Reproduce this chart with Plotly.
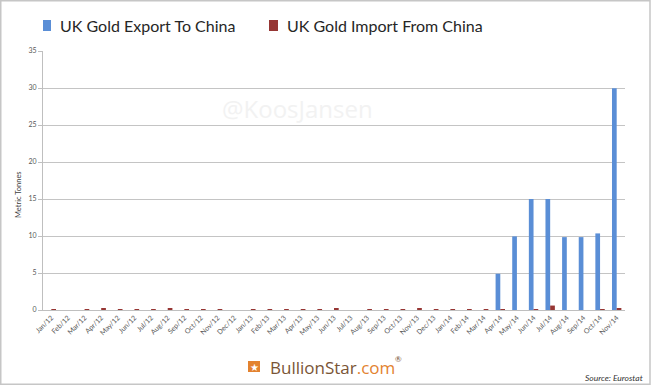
import plotly.graph_objects as go

months = ["Jan/12", "Feb/12", "Mar/12", "Apr/12", "May/12", "Jun/12", "Jul/12", "Aug/12",
          "Sep/12", "Oct/12", "Nov/12", "Dec/12", "Jan/13", "Feb/13", "Mar/13", "Apr/13",
          "May/13", "Jun/13", "Jul/13", "Aug/13", "Sep/13", "Oct/13", "Nov/13", "Dec/13",
          "Jan/14", "Feb/14", "Mar/14", "Apr/14", "May/14", "Jun/14", "Jul/14", "Aug/14",
          "Sep/14", "Oct/14", "Nov/14"]

export_to_china = [0, 0, 0, 0, 0, 0, 0, 0,
                   0, 0, 0, 0, 0, 0, 0, 0,
                   0, 0, 0, 0, 0, 0, 0, 0,
                   0, 0, 0, 4.9, 9.95, 15.0, 15.0, 9.85,
                   9.85, 10.35, 29.95]

import_from_china = [0.04, 0, 0.04, 0.15, 0.04, 0.04, 0.04, 0.15,
                     0.04, 0.04, 0.04, 0, 0.04, 0.04, 0.04, 0.04,
                     0.04, 0.15, 0, 0.04, 0.04, 0.04, 0.15, 0.04,
                     0.04, 0.04, 0.04, 0.04, 0, 0.04, 0.6, 0,
                     0, 0.04, 0.15]

y_ticks = [0, 5, 10, 15, 20, 25, 30, 35]
series_names = ["UK Gold Export To China", "UK Gold Import From China"]
series_colors = ["#5A8ED6", "#963634"]

# layout geometry (pixels)
W, H = 651, 385
L, R, T, B = 43, 26, 51, 75
pw, ph = W - L - R, H - T - B

def px(x):
    return (x - L) / pw

def py(y):
    return (H - B - y) / ph

fig = go.Figure()
fig.add_trace(go.Bar(x=months, y=export_to_china, name=series_names[0],
                     marker=dict(color=series_colors[0], line=dict(width=0))))
fig.add_trace(go.Bar(x=months, y=import_from_china, name=series_names[1],
                     marker=dict(color=series_colors[1], line=dict(width=0))))

fig.update_layout(
    width=W, height=H,
    margin=dict(l=L, r=R, t=T, b=B),
    paper_bgcolor="white", plot_bgcolor="white",
    barmode="group", bargap=0.435, bargroupgap=0,
    font=dict(family="Lato, Open Sans, sans-serif", color="#595959"),
    showlegend=False,
    xaxis=dict(type="category", tickangle=-45, tickfont=dict(size=7, color="#595959"),
               showgrid=False, showline=True, linecolor="#bfbfbf", linewidth=1,
               ticks="", range=[-0.5, 34.5]),
    yaxis=dict(range=[0, 35], tickvals=y_ticks, tickfont=dict(size=7, color="#595959"),
               showgrid=True, gridcolor="#c4c4c4", gridwidth=1,
               showline=True, linecolor="#bfbfbf", linewidth=1,
               ticks="outside", ticklen=4, tickcolor="#bfbfbf", zeroline=False),
)

def note(text, x, y, xa="left", size=10, color="#333", family="Lato, sans-serif", **kw):
    return dict(text=text, x=px(x), y=py(y), xref="paper", yref="paper",
                xanchor=xa, yanchor="middle", showarrow=False, borderpad=0,
                font=dict(size=size, color=color, family=family), **kw)

legend_family = "Lato, sans-serif"
annotations = [
    note(series_names[0], 59, 26, size=16, color="#262626", family=legend_family),
    note(series_names[1], 286, 26, size=16, color="#262626", family=legend_family),
    note("Metric Tonnes", 18, 195, xa="center", size=7.5, color="#404040", textangle=-90),
    note("@KoosJansen", 297, 108, xa="center", size=24, color="#f2f2f2",
         family="Open Sans, sans-serif"),
    note("<span style='color:#7a5536'>BullionStar</span><span style='color:#e3822f'>.com</span>",
         269, 367, size=17, family="Open Sans, sans-serif"),
    note("®", 394, 359, size=8, color="#7a5536"),
    note("★", 254, 367, xa="center", size=10, color="white"),
    note("<i>Source: Eurostat</i>", 644, 378, xa="right", size=8.5, color="#333333"),
]
fig.update_layout(annotations=annotations)

shapes = [
    dict(type="rect", xref="paper", yref="paper", x0=px(43), x1=px(51), y0=py(31), y1=py(20),
         fillcolor=series_colors[0], line=dict(width=0)),
    dict(type="rect", xref="paper", yref="paper", x0=px(269), x1=px(278), y0=py(31), y1=py(20),
         fillcolor=series_colors[1], line=dict(width=0)),
    dict(type="rect", xref="paper", yref="paper", x0=px(248), x1=px(260), y0=py(372), y1=py(361),
         fillcolor="#e3822f", line=dict(width=0)),
    dict(type="rect", xref="paper", yref="paper", x0=px(0.75), x1=px(650), y0=py(384.25), y1=py(0.75),
         line=dict(color="#c6c6c6", width=1.5), fillcolor="rgba(0,0,0,0)"),
]
fig.update_layout(shapes=shapes)

fig.write_html("out.html", config={"displayModeBar": False},
               post_script="document.body.style.margin='0';document.body.style.overflow='hidden';")
